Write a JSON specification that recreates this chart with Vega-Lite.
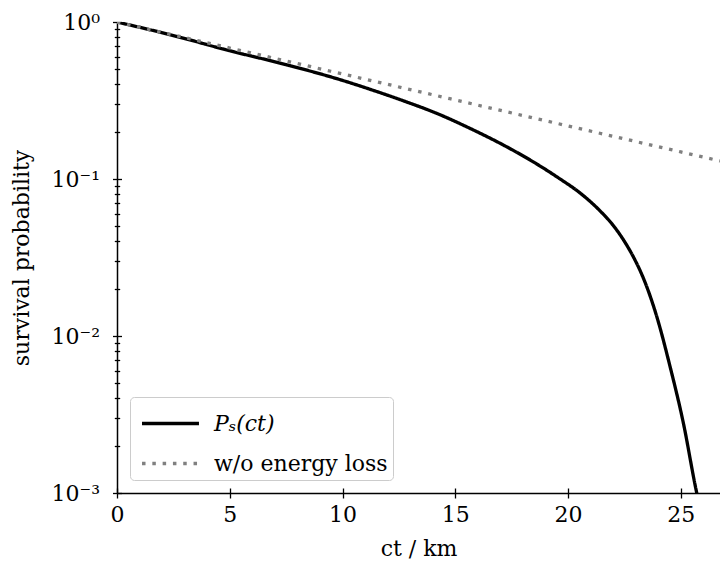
{
  "$schema": "https://vega.github.io/schema/vega-lite/v6.json",
  "width": 603,
  "height": 471,
  "autosize": {"type": "none"},
  "padding": {"left": 117, "top": 22, "right": 0, "bottom": 76},
  "config": {
    "view": {"stroke": null},
    "font": "DejaVu Serif",
    "axis": {
      "labelFont": "DejaVu Serif", "titleFont": "DejaVu Serif",
      "labelFontSize": 22, "titleFontSize": 22, "titleFontWeight": "normal",
      "labelColor": "black", "titleColor": "black",
      "domainColor": "black", "tickColor": "black",
      "domainWidth": 1.5, "tickWidth": 1.3, "grid": false
    },
    "legend": {
      "orient": "bottom-left", "offset": 13,
      "fillColor": "white", "strokeColor": "#cccccc", "cornerRadius": 4,
      "padding": 5, "rowPadding": 7, "labelLimit": 400,
      "labelFont": "DejaVu Serif", "labelFontSize": 22, "labelColor": "black",
      "symbolType": "M-1.46,0H1.46", "symbolSize": 1521, "symbolStrokeWidth": 3.3,
      "symbolOffset": 14, "labelOffset": 22
    }
  },
  "datasets": {
    "curves": [
      {"ct": 0, "p": 1, "s": "Pₛ(ct)"},
      {"ct": 2.5, "p": 0.82, "s": "Pₛ(ct)"},
      {"ct": 5, "p": 0.656, "s": "Pₛ(ct)"},
      {"ct": 7.5, "p": 0.535, "s": "Pₛ(ct)"},
      {"ct": 10, "p": 0.4246, "s": "Pₛ(ct)"},
      {"ct": 11.23, "p": 0.3724, "s": "Pₛ(ct)"},
      {"ct": 12.7, "p": 0.3148, "s": "Pₛ(ct)"},
      {"ct": 14.18, "p": 0.2618, "s": "Pₛ(ct)"},
      {"ct": 15.66, "p": 0.2099, "s": "Pₛ(ct)"},
      {"ct": 17.14, "p": 0.1644, "s": "Pₛ(ct)"},
      {"ct": 18.62, "p": 0.1245, "s": "Pₛ(ct)"},
      {"ct": 19.65, "p": 0.1, "s": "Pₛ(ct)"},
      {"ct": 20.5, "p": 0.0822, "s": "Pₛ(ct)"},
      {"ct": 21.4, "p": 0.0631, "s": "Pₛ(ct)"},
      {"ct": 22.0, "p": 0.0507, "s": "Pₛ(ct)"},
      {"ct": 22.6, "p": 0.038, "s": "Pₛ(ct)"},
      {"ct": 23.0, "p": 0.0299, "s": "Pₛ(ct)"},
      {"ct": 23.34, "p": 0.0234, "s": "Pₛ(ct)"},
      {"ct": 23.94, "p": 0.01324, "s": "Pₛ(ct)"},
      {"ct": 24.53, "p": 0.00635, "s": "Pₛ(ct)"},
      {"ct": 25.12, "p": 0.00277, "s": "Pₛ(ct)"},
      {"ct": 25.68, "p": 0.001047, "s": "Pₛ(ct)"},
      {"ct": 25.8, "p": 0.000871, "s": "Pₛ(ct)"},
      {"ct": 0, "p": 1, "s": "w/o energy loss"},
      {"ct": 5, "p": 0.683, "s": "w/o energy loss"},
      {"ct": 10, "p": 0.4667, "s": "w/o energy loss"},
      {"ct": 15, "p": 0.3188, "s": "w/o energy loss"},
      {"ct": 20, "p": 0.2178, "s": "w/o energy loss"},
      {"ct": 25, "p": 0.1488, "s": "w/o energy loss"},
      {"ct": 26.74, "p": 0.1303, "s": "w/o energy loss"}
    ]
  },
  "layer": [
    {
      "data": {"name": "curves"},
      "mark": {"type": "line", "strokeWidth": 3.3, "clip": true, "interpolate": "monotone"},
      "encoding": {
        "x": {
          "field": "ct", "type": "quantitative",
          "scale": {"domain": [0, 26.74], "nice": false, "zero": false},
          "axis": {
            "orient": "bottom", "title": "ct / km", "values": [0, 5, 10, 15, 20, 25],
            "tickSize": 5, "labelPadding": 6, "titlePadding": 13, "labelFlush": false
          }
        },
        "y": {
          "field": "p", "type": "quantitative",
          "scale": {"type": "log", "domain": [0.001, 1], "nice": false},
          "axis": {
            "orient": "left", "title": "survival probability",
            "values": [0.001, 0.002, 0.003, 0.004, 0.005, 0.006, 0.007, 0.008, 0.009,
                       0.01, 0.02, 0.03, 0.04, 0.05, 0.06, 0.07, 0.08, 0.09,
                       0.1, 0.2, 0.3, 0.4, 0.5, 0.6, 0.7, 0.8, 0.9, 1],
            "tickSize": {"condition": {"test": "abs(log(datum.value)/LN10 - round(log(datum.value)/LN10)) < 0.001", "value": 4.5}, "value": 2.7},
            "labelExpr": "abs(log(datum.value)/LN10 - round(log(datum.value)/LN10)) < 0.001 ? ['10⁰','10⁻¹','10⁻²','10⁻³'][-round(log(datum.value)/LN10)] : ''",
            "labelPadding": 13, "titlePadding": 18, "labelFlush": false, "labelOverlap": false
          }
        },
        "color": {
          "field": "s", "type": "nominal", "title": null,
          "scale": {"domain": ["Pₛ(ct)", "w/o energy loss"], "range": ["black", "#808080"]},
          "legend": {
            "title": null,
            "symbolSize": 1521,
            "symbolType": "M-1.46,0H1.46",
            "labelLimit": 400,
            "encode": {"labels": {"update": {"fontStyle": {"signal": "datum.value == 'Pₛ(ct)' ? 'italic' : 'normal'"}}}}
          }
        },
        "strokeDash": {
          "field": "s", "type": "nominal", "title": null,
          "scale": {"domain": ["Pₛ(ct)", "w/o energy loss"], "range": [[1, 0], [3.5, 6.8]]},
          "legend": {"title": null}
        }
      }
    },
    {
      "mark": {"type": "rule", "color": "black", "strokeWidth": 1.5},
      "encoding": {
        "x": {
          "datum": 0, "type": "quantitative",
          "axis": {"orient": "bottom", "title": null, "values": [0, 5, 10, 15, 20, 25], "labels": false, "domain": false, "tickSize": -5}
        },
        "x2": {"datum": 26.74},
        "y": {
          "datum": 1, "type": "quantitative",
          "axis": {
            "orient": "left", "title": null, "labels": false, "domain": false,
            "values": [0.001, 0.002, 0.003, 0.004, 0.005, 0.006, 0.007, 0.008, 0.009,
                       0.01, 0.02, 0.03, 0.04, 0.05, 0.06, 0.07, 0.08, 0.09,
                       0.1, 0.2, 0.3, 0.4, 0.5, 0.6, 0.7, 0.8, 0.9, 1],
            "tickSize": {"condition": {"test": "abs(log(datum.value)/LN10 - round(log(datum.value)/LN10)) < 0.001", "value": -4.5}, "value": -2.7}
          }
        }
      }
    }
  ],
  "resolve": {"axis": {"x": "independent", "y": "independent"}}
}
